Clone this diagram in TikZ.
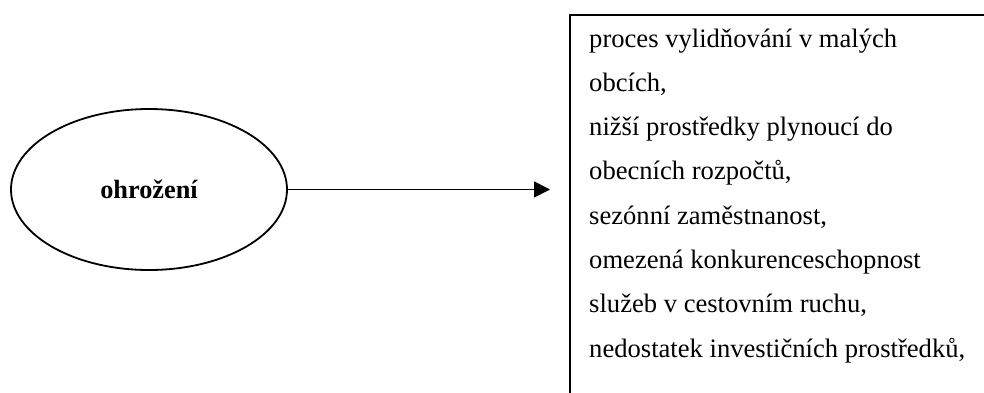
\documentclass[tikz,border=0pt]{standalone}
\usepackage{fontspec}
\setmainfont{Liberation Serif}
\usetikzlibrary{arrows.meta,positioning,shapes.geometric}
\tikzstyle{arrow} = [line width=1.8pt,-{Triangle[length=16pt,width=16pt]}]
\tikzstyle{threatbox} = [ellipse, draw, line width=1.8pt, minimum width=276pt, minimum height=161pt, inner sep=0pt, font=\fontsize{26.3}{30}\selectfont\bfseries]
\tikzstyle{listbox} = [rectangle, draw, line width=2pt, minimum width=440pt, minimum height=400pt, anchor=north west, inner sep=0pt]
\tikzstyle{listline} = [anchor=base west, inner sep=0pt, font=\fontsize{26.6}{30}\selectfont]
\begin{document}
\begin{tikzpicture}[x=1pt,y=-1pt]
\useasboundingbox (0,0) rectangle (984,392);
\clip (0,0) rectangle (984,392);

% Threat
\node[threatbox] (threat) at (149,189.5) {ohrožení};

% List
\node[listbox] (list) at (569,13.5) {};
\foreach \txt [count=\i from 0] in {proces vylidňování v malých, {obcích,}, nižší prostředky plynoucí do, {obecních rozpočtů,}, {sezónní zaměstnanost,}, omezená konkurenceschopnost, {služeb v cestovním ruchu,}, {nedostatek investičních prostředků,}} {
    \node[listline] (line\i) at (589,47+\i*44.3) {\txt};
}

% Connector
\draw[arrow, shorten >=19pt] (threat.east) -- (list.west |- threat.east);
\end{tikzpicture}
\end{document}
